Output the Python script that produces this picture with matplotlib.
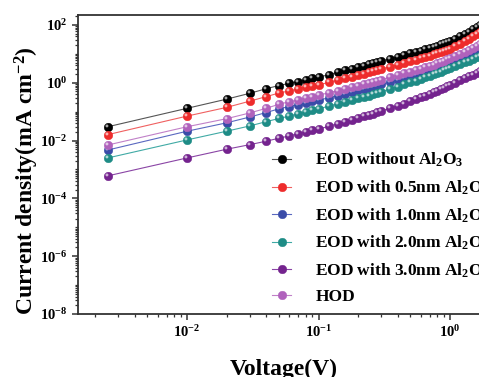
import matplotlib
matplotlib.use("Agg")
import matplotlib.pyplot as plt
from matplotlib.path import Path
from matplotlib.markers import MarkerStyle
from matplotlib.legend_handler import HandlerTuple
from matplotlib.ticker import LogLocator, NullFormatter

plt.rcParams['font.family'] = ['Liberation Serif', 'DejaVu Serif']
plt.rcParams['font.weight'] = 'bold'
plt.rcParams['mathtext.default'] = 'regular'

voltage = [0.0025, 0.01, 0.02, 0.03, 0.04, 0.05, 0.06, 0.07, 0.08, 0.09, 0.10,
           0.12, 0.14, 0.16, 0.18, 0.20, 0.22, 0.24, 0.26, 0.28, 0.30,
           0.35, 0.40, 0.45, 0.50, 0.55, 0.60, 0.65, 0.70, 0.75, 0.80, 0.85, 0.90, 0.95, 1.00,
           1.1, 1.2, 1.3, 1.4, 1.5, 1.6, 1.7]

eod_without = [0.030, 0.13, 0.27, 0.43, 0.62, 0.80, 0.95, 1.10, 1.26, 1.41, 1.55,
               1.9, 2.3, 2.7, 3.1, 3.5, 3.9, 4.3, 4.7, 5.1, 5.6,
               6.7, 7.8, 9.0, 10.3, 11.6, 13.0, 14.4, 15.9, 17.5, 19.2, 21.0, 23.0, 25.0, 27.5,
               33, 40, 48, 58, 70, 82, 96]
eod_05 = [0.016, 0.070, 0.14, 0.23, 0.33, 0.44, 0.52, 0.60, 0.69, 0.77, 0.85,
          1.02, 1.22, 1.42, 1.62, 1.84, 2.05, 2.27, 2.5, 2.72, 2.95,
          3.6, 4.2, 4.9, 5.6, 6.3, 7.1, 7.9, 8.7, 9.6, 10.5, 11.5, 12.5, 13.6, 14.8,
          18, 22, 27, 33, 40, 48, 57]
eod_10 = [0.0047, 0.021, 0.041, 0.065, 0.093, 0.125, 0.15, 0.175, 0.20, 0.225, 0.25,
          0.30, 0.36, 0.42, 0.48, 0.54, 0.60, 0.66, 0.73, 0.80, 0.87,
          1.05, 1.25, 1.46, 1.68, 1.9, 2.15, 2.4, 2.7, 3.0, 3.3, 3.7, 4.1, 4.5, 5.0,
          6.0, 7.2, 8.6, 10.2, 12.0, 14.0, 16.3]
eod_20 = [0.0025, 0.0105, 0.021, 0.032, 0.045, 0.058, 0.07, 0.083, 0.096, 0.11, 0.125,
          0.155, 0.185, 0.215, 0.25, 0.285, 0.32, 0.36, 0.40, 0.44, 0.49,
          0.61, 0.74, 0.88, 1.03, 1.19, 1.36, 1.54, 1.73, 1.93, 2.15, 2.4, 2.65, 2.9, 3.2,
          3.8, 4.4, 5.1, 5.8, 6.6, 7.5, 8.5]
eod_30 = [0.0006, 0.0025, 0.005, 0.0072, 0.0095, 0.012, 0.0145, 0.017, 0.0196, 0.0223, 0.025,
          0.031, 0.038, 0.045, 0.052, 0.06, 0.068, 0.077, 0.086, 0.095, 0.105,
          0.13, 0.16, 0.19, 0.23, 0.27, 0.31, 0.36, 0.41, 0.47, 0.53, 0.6, 0.67, 0.75, 0.83,
          1.0, 1.2, 1.42, 1.66, 1.92, 2.2, 2.5]
hod = [0.0070, 0.030, 0.057, 0.09, 0.13, 0.18, 0.22, 0.25, 0.29, 0.33, 0.37,
       0.45, 0.53, 0.62, 0.71, 0.80, 0.89, 0.98, 1.08, 1.18, 1.28,
       1.55, 1.82, 2.1, 2.4, 2.7, 3.05, 3.4, 3.8, 4.2, 4.7, 5.2, 5.8, 6.4, 7.0,
       8.4, 10.0, 11.8, 13.8, 16.0, 18.5, 21]

labels = [r'EOD without Al$_2$O$_3$',
          r'EOD with 0.5nm Al$_2$O$_3$',
          r'EOD with 1.0nm Al$_2$O$_3$',
          r'EOD with 2.0nm Al$_2$O$_3$',
          r'EOD with 3.0nm Al$_2$O$_3$',
          'HOD']
series = [eod_without, eod_05, eod_10, eod_20, eod_30, hod]
colors = ['#000000', '#EE2C2C', '#3A4CA8', '#1E8C86', '#74238E', '#B062BC']
line_colors = ['#555555', '#F06060', '#5A68C0', '#40AAA5', '#8A45A5', '#C080C8']

fig = plt.figure(figsize=(4.79, 3.77), dpi=100)
W, H = 479.0, 377.0
x0, x1 = 78.0, 489.6
y_top, y_bot = 15.0, 314.0
ax = fig.add_axes([x0 / W, 1 - y_bot / H, (x1 - x0) / W, (y_bot - y_top) / H])
ax.set_xscale('log')
ax.set_yscale('log')
ax.set_xlim(1.483e-3, 2.0)
ax.set_ylim(1e-8, 2.2e2)

hl_marker = MarkerStyle(Path.circle(center=(-0.18, 0.18), radius=0.17))
ms = 6.2
handles = []
for ys, c, lc, lab in zip(series, colors, line_colors, labels):
    l, = ax.plot(voltage, ys, '-', color=lc, lw=0.8, marker='o', ms=ms,
                 mfc=c, mec=c, mew=0.3, label=lab)
    h, = ax.plot(voltage, ys, ls='none', marker=hl_marker, ms=ms * 0.7,
                 mfc='white', mec='none', alpha=0.65)
    handles.append((l, h))

ax.yaxis.set_major_locator(LogLocator(base=100, numticks=20))
ax.yaxis.set_minor_locator(LogLocator(base=10, subs=[1, 2, 3, 4, 5, 6, 7, 8, 9], numticks=40))
ax.yaxis.set_minor_formatter(NullFormatter())
ax.xaxis.set_minor_locator(LogLocator(base=10, subs=[2, 3, 4, 5, 6, 7, 8, 9], numticks=20))
ax.xaxis.set_minor_formatter(NullFormatter())

for sp in ax.spines.values():
    sp.set_linewidth(1.3)
    sp.set_color('#333333')
ax.tick_params(which='major', direction='out', length=4, width=1.1, color='#333333',
               labelsize=10.5, pad=3.5)
ax.tick_params(which='minor', direction='out', length=2.5, width=0.9, color='#333333')
for t in ax.get_xticklabels() + ax.get_yticklabels():
    t.set_fontweight('bold')

ax.set_xlabel('Voltage(V)', fontsize=17, fontweight='bold', labelpad=13)
fig.text(34 / W, 1 - 181 / H, r'Current density(mA cm$^{-2}$)', rotation=90,
         rotation_mode='anchor', ha='center', va='baseline',
         fontsize=17, fontweight='bold')

leg = ax.legend(handles, labels, handler_map={tuple: HandlerTuple(ndivide=None)},
                loc='upper left', bbox_to_anchor=(272 / W, 1 - 151 / H),
                bbox_transform=fig.transFigure, frameon=False,
                prop={'weight': 'bold', 'size': 12.5},
                handlelength=2.2, handletextpad=0.3, labelspacing=0.53,
                borderpad=0, borderaxespad=0)

fig.savefig('out.png', dpi=100)
